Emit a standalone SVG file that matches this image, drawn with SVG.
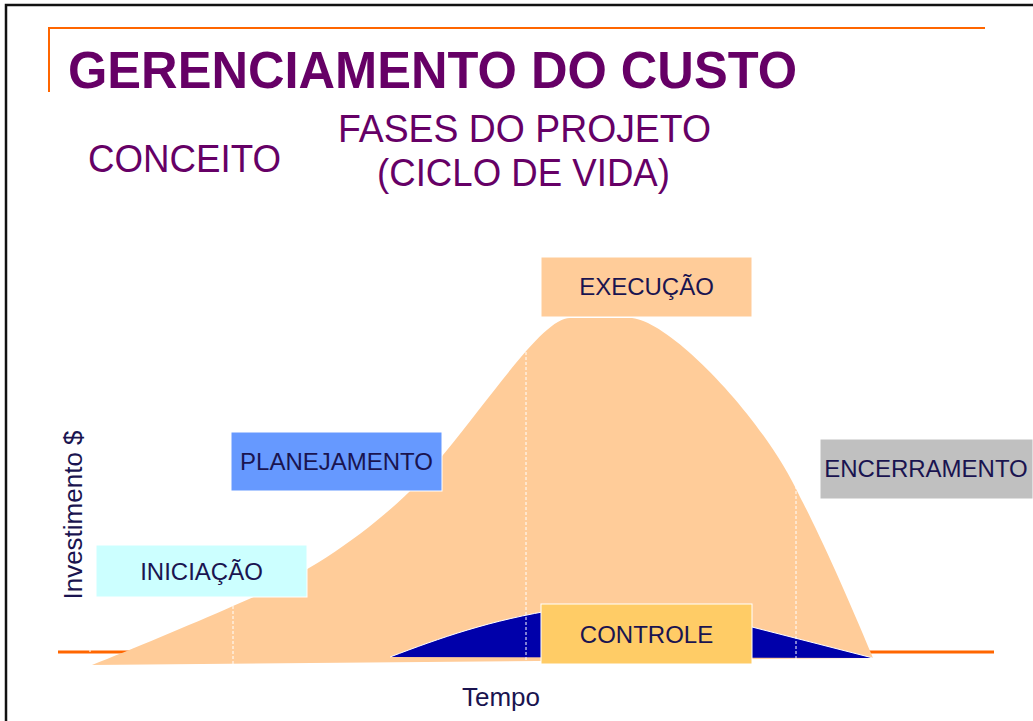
<svg xmlns="http://www.w3.org/2000/svg" width="1033" height="721" viewBox="0 0 1033 721">
<style>
.title{font-family:"Liberation Sans",Arial,sans-serif;font-weight:bold;fill:#660066}
.sub{font-family:"Liberation Sans",Arial,sans-serif;fill:#660066}
.lbl{font-family:"Liberation Sans",Arial,sans-serif;font-size:24px;fill:#1a1450;text-anchor:middle}
.axis{font-family:"Liberation Sans",Arial,sans-serif;font-size:26px;fill:#1a1450}
.box{stroke:#ffffff;stroke-width:1}
.sep{stroke:#ffffff;stroke-width:1;stroke-dasharray:3 2;fill:none}
</style>
<rect width="1033" height="721" fill="#ffffff"/>
<g id="frame">
<path d="M6,721 V5 H1040" fill="none" stroke="#111111" stroke-width="2.5"/>
<path d="M49,92 V28 H985" fill="none" stroke="#ff6600" stroke-width="2"/>
</g>
<g id="titles">
<text class="title" x="68" y="88" font-size="51" textLength="729" lengthAdjust="spacingAndGlyphs">GERENCIAMENTO DO CUSTO</text>
<text class="sub" x="88" y="172" font-size="38" textLength="193" lengthAdjust="spacingAndGlyphs">CONCEITO</text>
<text class="sub" x="338" y="142" font-size="39" textLength="373" lengthAdjust="spacingAndGlyphs">FASES DO PROJETO</text>
<text class="sub" x="377" y="186" font-size="39" textLength="293" lengthAdjust="spacingAndGlyphs">(CICLO DE VIDA)</text>
</g>
<g id="chart">
<line x1="58" y1="652" x2="994" y2="652" stroke="#ff6600" stroke-width="3"/>
<path id="lifecycle" d="M92,665 C130,650 190,625 233,606 C313,574 393,517 443,455 C503,381 545,318 570,318 L632,318 C672,322 765,420 800,497 C815,525 845,590 873,658 Z" fill="#ffcc99"/>
<path id="control" d="M390,657 C440,638 490,620 560,609 C620,602 700,615 752,627 L873,658 Z" fill="#0000aa"/>
<path d="M390,657 C440,638 490,620 560,609 C620,602 700,615 752,627 L873,658" fill="none" stroke="#ffffff" stroke-width="1"/>
<line class="sep" x1="90" y1="644" x2="90" y2="665"/>
<line class="sep" x1="233" y1="606" x2="233" y2="664"/>
<line class="sep" x1="526" y1="352" x2="526" y2="662"/>
<line class="sep" x1="796" y1="486" x2="796" y2="659"/>
</g>
<g id="axes">
<text class="axis" transform="translate(82,515) rotate(-90)" text-anchor="middle">Investimento $</text>
<text class="axis" x="462" y="706">Tempo</text>
</g>
<g id="node-iniciacao">
<rect class="box" x="96" y="545" width="211" height="52" fill="#ccffff"/>
<text class="lbl" x="201.5" y="580">INICIAÇÃO</text>
</g>
<g id="node-planejamento">
<rect class="box" x="231" y="432" width="211" height="59" fill="#6699ff"/>
<text class="lbl" x="336.5" y="470">PLANEJAMENTO</text>
</g>
<g id="node-execucao">
<rect class="box" x="541" y="257" width="211" height="60" fill="#ffcc99"/>
<text class="lbl" x="646.5" y="295">EXECUÇÃO</text>
</g>
<g id="node-controle">
<rect class="box" x="541" y="604" width="211" height="60" fill="#ffcc66"/>
<text class="lbl" x="646.5" y="643">CONTROLE</text>
</g>
<g id="node-encerramento">
<rect class="box" x="820" y="439" width="213" height="60" fill="#c0c0c0"/>
<text class="lbl" x="926" y="477">ENCERRAMENTO</text>
</g>
</svg>
